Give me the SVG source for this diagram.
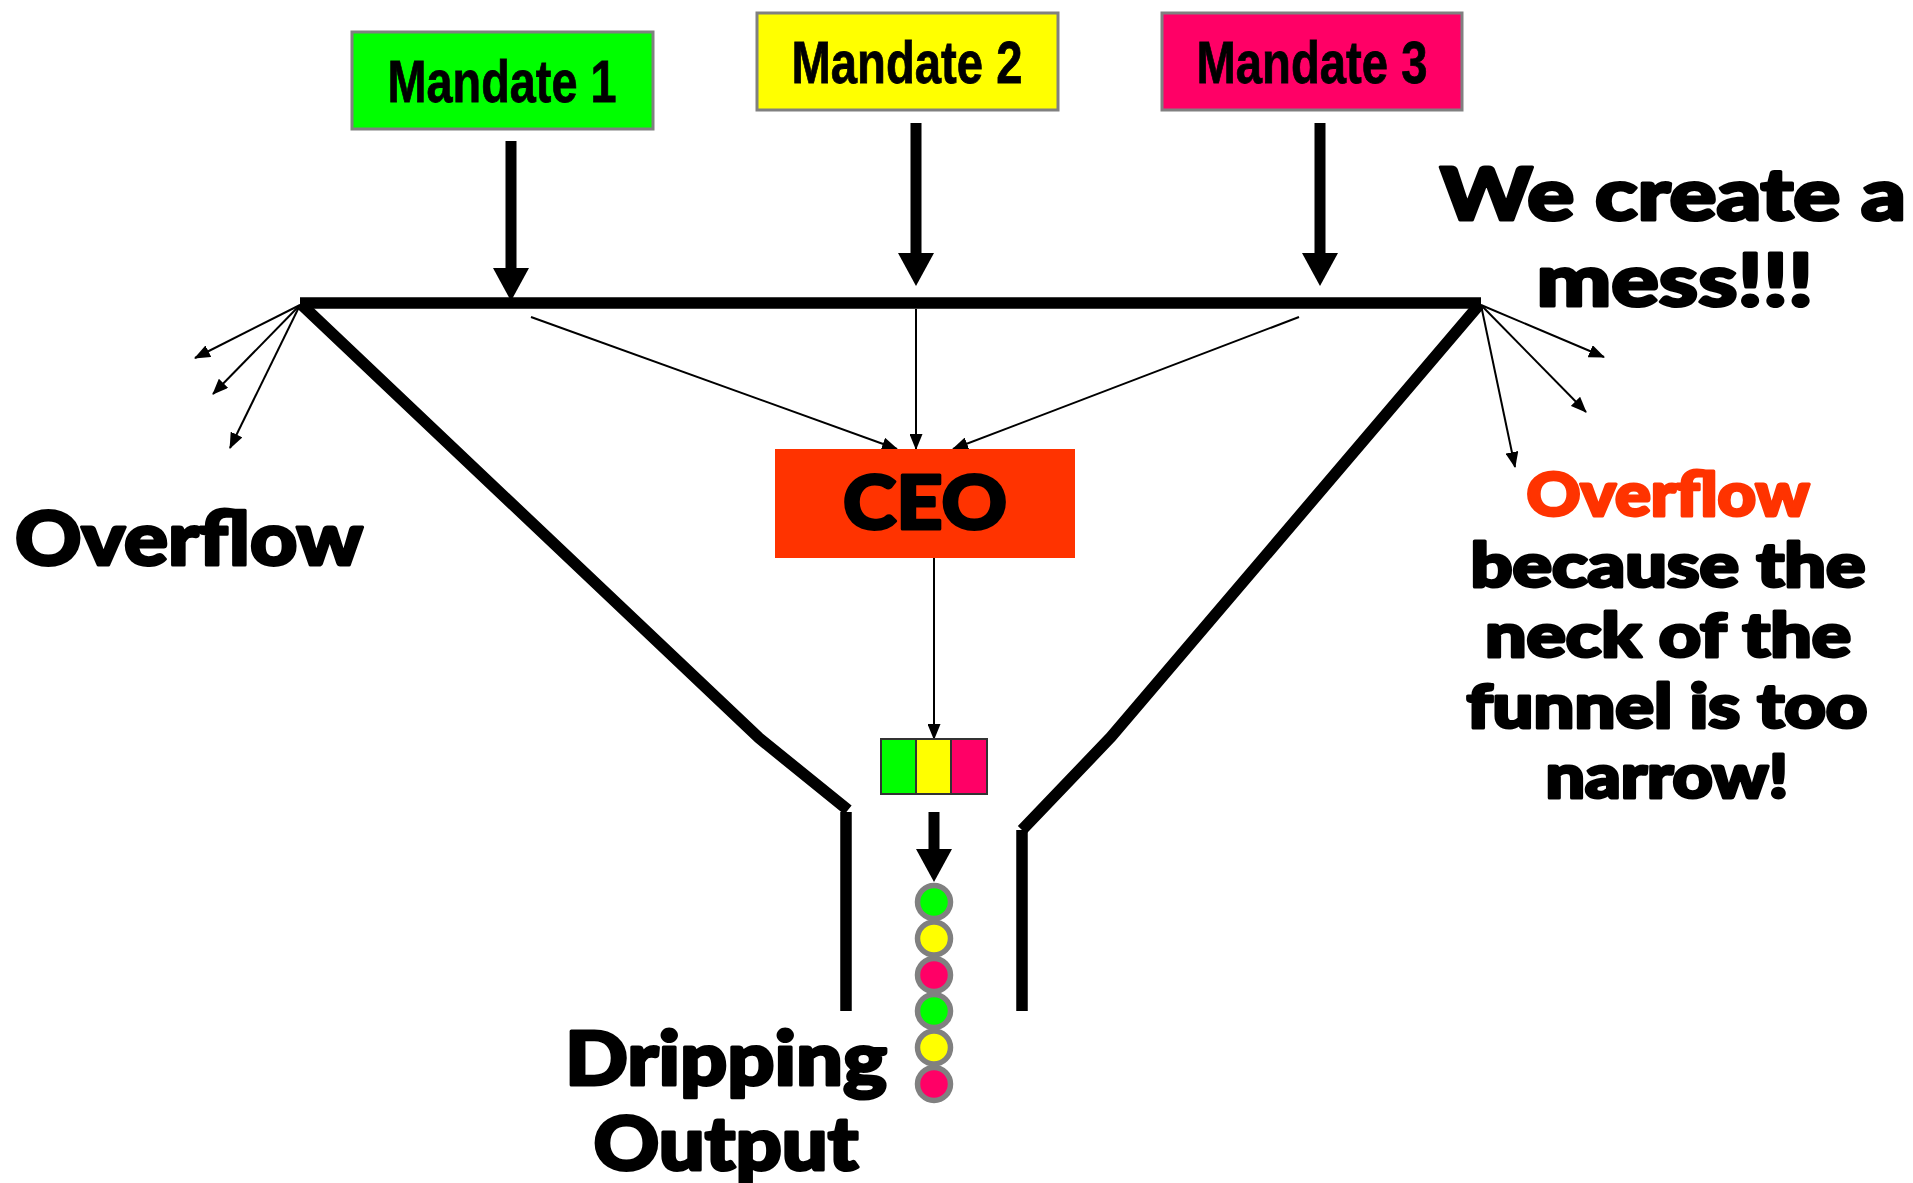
<svg xmlns="http://www.w3.org/2000/svg" width="1913" height="1183" viewBox="0 0 1913 1183">
  <style>
    .mandate { stroke: #808080; stroke-width: 3; }
    .mtext { font-family: "Liberation Sans Narrow", "Liberation Sans", Arial, sans-serif; font-weight: bold; font-size: 60px; fill: #000; text-anchor: middle; stroke: #000; stroke-width: 0.8; }
    .heavy { font-family: Lato, Roboto, "Liberation Sans", sans-serif; font-weight: 900; fill: #000; text-anchor: middle; stroke: #000; stroke-width: 3; stroke-linejoin: round; }
    .red { fill: #FF3300; stroke: #FF3300; }
    .funnel { fill: none; stroke: #000; stroke-width: 11.5; stroke-linejoin: miter; }
    .thick { stroke: #000; stroke-width: 11; fill: none; }
    .thin { stroke: #000; stroke-width: 2; fill: none; }
    .drop { stroke: #808080; stroke-width: 5.5; }
    .cell { stroke: #333; stroke-width: 2; }
  </style>
  <defs>
    <marker id="bigHead" markerUnits="userSpaceOnUse" viewBox="0 0 33 36" markerWidth="33" markerHeight="36" refX="0" refY="18" orient="auto">
      <path d="M0,0 L33,18 L0,36 Z" fill="#000"/>
    </marker>
    <marker id="smallHead" markerUnits="userSpaceOnUse" viewBox="0 0 16 13" markerWidth="16" markerHeight="13" refX="15" refY="6.5" orient="auto">
      <path d="M0,0 L16,6.5 L0,13 Z" fill="#000"/>
    </marker>
  </defs>
  <rect width="1913" height="1183" fill="#fff"/>

  <!-- funnel outline -->
  <g id="funnel">
    <line x1="300" y1="303" x2="1481" y2="303" class="funnel"/>
    <polyline points="302,305 759,738 848,810" class="funnel"/>
    <line x1="846" y1="812" x2="846" y2="1011" class="funnel"/>
    <polyline points="1479,305 1111,737 1022,830" class="funnel"/>
    <line x1="1022" y1="830" x2="1022" y2="1011" class="funnel"/>
  </g>

  <!-- connectors -->
  <g id="connectors">
    <line x1="511" y1="141" x2="511" y2="268" class="thick" marker-end="url(#bigHead)"/>
    <line x1="916" y1="123" x2="916" y2="253" class="thick" marker-end="url(#bigHead)"/>
    <line x1="1320" y1="123" x2="1320" y2="253" class="thick" marker-end="url(#bigHead)"/>
    <line x1="934" y1="812" x2="934" y2="849" class="thick" marker-end="url(#bigHead)"/>

    <line x1="531" y1="317" x2="897" y2="449" class="thin" marker-end="url(#smallHead)"/>
    <line x1="916" y1="309" x2="916" y2="449" class="thin" marker-end="url(#smallHead)"/>
    <line x1="1299" y1="317" x2="953" y2="449" class="thin" marker-end="url(#smallHead)"/>
    <line x1="934" y1="558" x2="934" y2="739" class="thin" marker-end="url(#smallHead)"/>

    <line x1="300" y1="305" x2="195" y2="358" class="thin" marker-end="url(#smallHead)"/>
    <line x1="300" y1="305" x2="213" y2="394" class="thin" marker-end="url(#smallHead)"/>
    <line x1="300" y1="305" x2="230" y2="448" class="thin" marker-end="url(#smallHead)"/>

    <line x1="1481" y1="305" x2="1604" y2="357" class="thin" marker-end="url(#smallHead)"/>
    <line x1="1481" y1="305" x2="1586" y2="412" class="thin" marker-end="url(#smallHead)"/>
    <line x1="1481" y1="305" x2="1515" y2="467" class="thin" marker-end="url(#smallHead)"/>
  </g>

  <!-- mandates -->
  <g id="mandate1">
    <rect x="352" y="32" width="301" height="97" fill="#00FF00" class="mandate"/>
    <text x="502" y="102" class="mtext" textLength="229" lengthAdjust="spacingAndGlyphs">Mandate 1</text>
  </g>
  <g id="mandate2">
    <rect x="757" y="13" width="301" height="97" fill="#FFFF00" class="mandate"/>
    <text x="907" y="83" class="mtext" textLength="231" lengthAdjust="spacingAndGlyphs">Mandate 2</text>
  </g>
  <g id="mandate3">
    <rect x="1162" y="13" width="300" height="97" fill="#FF0066" class="mandate"/>
    <text x="1312" y="83" class="mtext" textLength="231" lengthAdjust="spacingAndGlyphs">Mandate 3</text>
  </g>

  <!-- CEO -->
  <g id="ceo">
    <rect x="775" y="449" width="300" height="109" fill="#FF3300"/>
    <text x="925" y="529" class="heavy" font-size="75" textLength="164" lengthAdjust="spacingAndGlyphs">CEO</text>
  </g>

  <!-- merged work bar -->
  <g id="queue">
    <rect x="881" y="739" width="35" height="55" fill="#00FF00" class="cell"/>
    <rect x="916" y="739" width="35" height="55" fill="#FFFF00" class="cell"/>
    <rect x="951" y="739" width="36" height="55" fill="#FF0066" class="cell"/>
  </g>

  <!-- output drops -->
  <g id="drops">
    <circle cx="934" cy="902" r="16.5" fill="#00FF00" class="drop"/>
    <circle cx="934" cy="938.5" r="16.5" fill="#FFFF00" class="drop"/>
    <circle cx="934" cy="975" r="16.5" fill="#FF0066" class="drop"/>
    <circle cx="934" cy="1011" r="16.5" fill="#00FF00" class="drop"/>
    <circle cx="934" cy="1047.5" r="16.5" fill="#FFFF00" class="drop"/>
    <circle cx="934" cy="1084" r="16.5" fill="#FF0066" class="drop"/>
  </g>

  <!-- labels -->
  <g id="label-overflow-left">
    <text x="189" y="565" class="heavy" font-size="75" textLength="348" lengthAdjust="spacingAndGlyphs">Overflow</text>
  </g>
  <g id="label-dripping">
    <text x="726" y="1085" class="heavy" font-size="75" textLength="322" lengthAdjust="spacingAndGlyphs">Dripping</text>
    <text x="726" y="1170" class="heavy" font-size="75" textLength="265" lengthAdjust="spacingAndGlyphs">Output</text>
  </g>
  <g id="label-mess">
    <text x="1673" y="220" class="heavy" font-size="72" textLength="466" lengthAdjust="spacingAndGlyphs">We create a</text>
    <text x="1675" y="306" class="heavy" font-size="72" textLength="277" lengthAdjust="spacingAndGlyphs">mess!!!</text>
  </g>
  <g id="label-overflow-right">
    <text x="1668" y="516" class="heavy red" font-size="60" textLength="283" lengthAdjust="spacingAndGlyphs">Overflow</text>
    <text x="1668" y="587" class="heavy" font-size="60" textLength="395" lengthAdjust="spacingAndGlyphs">because the</text>
    <text x="1668" y="657" class="heavy" font-size="60" textLength="366" lengthAdjust="spacingAndGlyphs">neck of the</text>
    <text x="1667" y="728" class="heavy" font-size="60" textLength="401" lengthAdjust="spacingAndGlyphs">funnel is too</text>
    <text x="1667" y="798" class="heavy" font-size="60" textLength="243" lengthAdjust="spacingAndGlyphs">narrow!</text>
  </g>
</svg>
